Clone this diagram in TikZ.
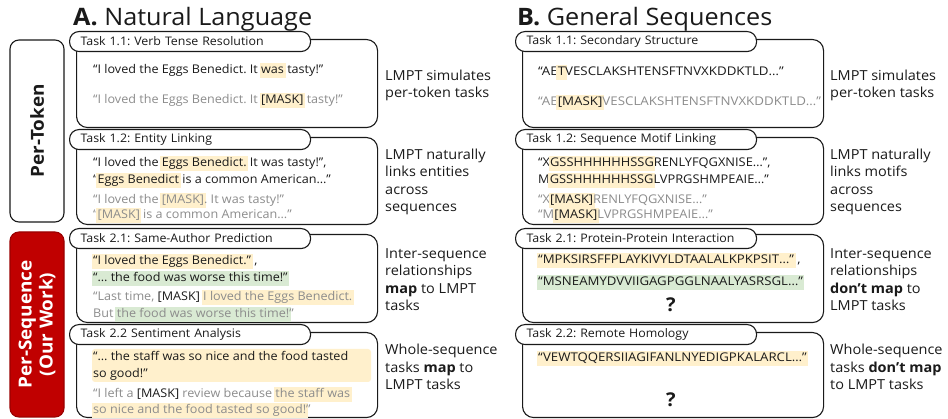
\documentclass[tikz,border=0pt]{standalone}
\usepackage{fontspec}
\setmainfont[FakeStretch=1.05]{Open Sans}
\newfontfamily\seqone[FakeStretch=1.11]{Open Sans}
\newfontfamily\seqtwo[FakeStretch=1.07]{Open Sans}
\newfontfamily\seqwide[FakeStretch=1.1]{Open Sans}
\definecolor{hly}{HTML}{FFF0CC}
\definecolor{hlg}{HTML}{D9EAD3}
\definecolor{gtxt}{HTML}{8C8C8C}
\definecolor{redbox}{HTML}{C00000}
\definecolor{ink}{HTML}{1A1A1A}
\newcommand\hly[1]{{\setlength\fboxsep{1.5pt}\kern-1.5pt\colorbox{hly}{\vphantom{[Eg}#1}\kern-1.5pt}}
\newcommand\hlg[1]{{\setlength\fboxsep{1.5pt}\kern-1.5pt\colorbox{hlg}{\vphantom{[Eg}#1}\kern-1.5pt}}
\newcommand\blk[1]{{\color{ink}#1}}
\frenchspacing
\tikzset{
  mainbox/.style={draw=ink, line width=1.1pt, rounded corners=11pt, fill=white, anchor=north west, inner sep=0pt},
  tabbox/.style={draw=ink, line width=1.1pt, rounded corners=9.5pt, fill=white, anchor=north west,
    minimum height=20pt, inner xsep=11pt, inner ysep=0pt, text width=219pt, align=left,
    font=\frenchspacing\fontsize{11.8}{13}\selectfont, text=ink},
  txtline/.style={anchor=base west, inner sep=0pt, font=\frenchspacing\fontsize{12}{14}\selectfont, text=ink},
  gline/.style={txtline, text=gtxt},
  seqoneline/.style={txtline, font=\seqone\fontsize{12}{14}\selectfont},
  gseqoneline/.style={seqoneline, text=gtxt},
  seqtwoline/.style={txtline, font=\seqtwo\fontsize{12}{14}\selectfont},
  gseqtwoline/.style={seqtwoline, text=gtxt},
  wseqline/.style={txtline, font=\seqwide\fontsize{12}{14}\selectfont},
  note/.style={anchor=west, align=left, inner sep=0pt, font=\fontsize{13.8}{17.3}\selectfont, text=ink},
  titletxt/.style={anchor=base west, inner sep=0pt, font=\fontsize{24}{28}\selectfont, text=ink},
  sidebox/.style={draw=ink, line width=1.1pt, rounded corners=9pt, rotate=90, anchor=center,
    minimum height=54pt, inner sep=0pt, font=\bfseries\fontsize{18}{21}\selectfont, align=center},
  qmark/.style={anchor=center, inner sep=0pt, font=\bfseries\fontsize{19}{20}\selectfont, text=ink},
}
\begin{document}
\begin{tikzpicture}[x=1pt,y=-1pt]
\useasboundingbox (0,0) rectangle (948,419);
\fill[white] (0,0) rectangle (948,419);

% titles
\node[titletxt] (tA) at (73,25.5) {\textbf{A.} Natural Language};
\node[titletxt] (tB) at (517,25.5) {\textbf{B.} General Sequences};

% side labels
\node[sidebox, fill=white, text=ink, minimum width=182pt] (pertok) at (37,131) {Per-Token};
\node[sidebox, fill=redbox, draw=redbox!80!black, text=white, minimum width=185pt] (perseq) at (37,324.5) {Per-Sequence\\(Our Work)};

% ================= Panel A =================
% Box 1.1
\node[mainbox, minimum width=301pt, minimum height=88pt] (a11) at (76,39) {};
\node[tabbox] (a11t) at (69,31) {Task 1.1: Verb Tense Resolution};
\node[txtline] (a11l1) at (93,73.5) {“I loved the Eggs Benedict. It \hly{was} tasty!”};
\node[gline] (a11l2) at (93,103.5) {“I loved the Eggs Benedict. It \hly{\blk{[MASK]}} tasty!”};

% Box 1.2
\node[mainbox, minimum width=301pt, minimum height=87pt] (a12) at (76,137) {};
\node[tabbox] (a12t) at (69,129) {Task 1.2: Entity Linking};
\node[txtline] (a12l1) at (93,166.5) {“I loved the \hly{Eggs Benedict.} It was tasty!”,};
\node[txtline] (a12l2) at (93,183.5) {“\hly{Eggs Benedict} is a common American…”};
\node[gline] (a12l3) at (93,203.5) {“I loved the \hly{[MASK]}. It was tasty!”};
\node[gline] (a12l4) at (93,218.5) {“\hly{[MASK]} is a common American…”};

% Box 2.1
\node[mainbox, minimum width=301pt, minimum height=88pt] (a21) at (76,234) {};
\node[tabbox] (a21t) at (69,228) {Task 2.1: Same-Author Prediction};
\node[txtline] (a21l1) at (93,264.5) {\hly{“I loved the Eggs Benedict.”} ,};
\node[txtline] (a21l2) at (93,281.5) {\hlg{“… the food was worse this time!”}};
\node[gline] (a21l3) at (93,300.5) {“Last time, \blk{[MASK]} \hly{I loved the Eggs Benedict.}};
\node[gline] (a21l4) at (93,317.5) {But \hlg{the food was worse this time!}”};

% Box 2.2
\node[mainbox, minimum width=301pt, minimum height=85pt] (a22) at (76,332) {};
\node[tabbox] (a22t) at (69,324) {Task 2.2 Sentiment Analysis};
\fill[hly, rounded corners=3pt] (92,349) rectangle (371,382);
\node[txtline] (a22l1) at (93,360.5) {“… the staff was so nice and the food tasted};
\node[txtline] (a22l2) at (93,377.5) {so good!”};
\node[gline] (a22l3) at (93,397.5) {“I left a \blk{[MASK]} review because \hly{the staff was}};
\node[gline] (a22l4) at (93,413.5) {\hly{so nice and the food tasted so good!}”};

% notes A
\node[note] (na1) at (385,85.5) {LMPT simulates\\per-token tasks};
\node[note] (na2) at (385,182) {LMPT naturally\\links entities\\across\\sequences};
\node[note] (na3) at (385,279.5) {Inter-sequence\\relationships\\\textbf{map} to LMPT\\tasks};
\node[note] (na4) at (385,367) {Whole-sequence\\tasks \textbf{map} to\\LMPT tasks};

% ================= Panel B =================
% Box 1.1
\node[mainbox, minimum width=301pt, minimum height=88pt] (b11) at (522,39) {};
\node[tabbox] (b11t) at (515,31) {Task 1.1: Secondary Structure};
\node[seqoneline] (b11l1) at (538,75.5) {“AE\hly{T}VESCLAKSHTENSFTNVXKDDKTLD…”};
\node[gseqoneline] (b11l2) at (538,105.5) {“AE\hly{\blk{[MASK]}}VESCLAKSHTENSFTNVXKDDKTLD…”};

% Box 1.2
\node[mainbox, minimum width=301pt, minimum height=87pt] (b12) at (522,137) {};
\node[tabbox] (b12t) at (515,129) {Task 1.2: Sequence Motif Linking};
\node[seqtwoline] (b12l1) at (538,166.5) {“X\hly{GSSHHHHHHSSG}RENLYFQGXNISE…”,};
\node[seqtwoline] (b12l2) at (538,183.5) {M\hly{GSSHHHHHHSSG}LVPRGSHMPEAIE…”};
\node[gseqtwoline] (b12l3) at (538,203.5) {“X\hly{\blk{[MASK]}}RENLYFQGXNISE…”};
\node[gseqtwoline] (b12l4) at (538,218.5) {“M\hly{\blk{[MASK]}}LVPRGSHMPEAIE…”};

% Box 2.1
\node[mainbox, minimum width=301pt, minimum height=88pt] (b21) at (522,234) {};
\node[tabbox] (b21t) at (515,228) {Task 2.1: Protein-Protein Interaction};
\node[wseqline] (b21l1) at (538,263.5) {\hly{“MPKSIRSFFPLAYKIVYLDTAALALKPKPSIT…”} ,};
\node[wseqline] (b21l2) at (538,285.5) {\hlg{“MSNEAMYDVVIIGAGPGGLNAALYASRSGL…”}};
\node[qmark] (b21q) at (671,305) {?};

% Box 2.2
\node[mainbox, minimum width=301pt, minimum height=85pt] (b22) at (522,332) {};
\node[tabbox] (b22t) at (515,324) {Task 2.2: Remote Homology};
\node[wseqline] (b22l1) at (538,361.5) {\hly{“VEWTQQERSIIAGIFANLNYEDIGPKALARCL…”}};
\node[qmark] (b22q) at (671,400) {?};

% notes B
\node[note] (nb1) at (830,85.5) {LMPT simulates\\per-token tasks};
\node[note] (nb2) at (830,182) {LMPT naturally\\links motifs\\across\\sequences};
\node[note] (nb3) at (830,279.5) {Inter-sequence\\relationships\\\textbf{don’t map} to\\LMPT tasks};
\node[note] (nb4) at (830,367) {Whole-sequence\\tasks \textbf{don’t map}\\to LMPT tasks};
\end{tikzpicture}
\end{document}
